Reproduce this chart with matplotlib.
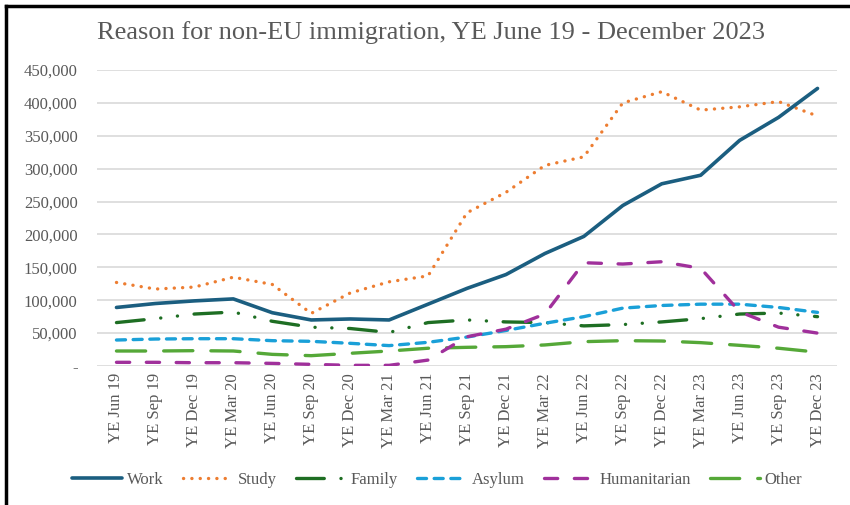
import matplotlib
matplotlib.use("Agg")
import matplotlib.pyplot as plt
from matplotlib.lines import Line2D

plt.rcParams['font.family'] = ['Liberation Serif', 'DejaVu Serif']
plt.rcParams['lines.scale_dashes'] = False

categories = ["YE Jun 19", "YE Sep 19", "YE Dec 19", "YE Mar 20", "YE Jun 20", "YE Sep 20",
              "YE Dec 20", "YE Mar 21", "YE Jun 21", "YE Sep 21", "YE Dec 21", "YE Mar 22",
              "YE Jun 22", "YE Sep 22", "YE Dec 22", "YE Mar 23", "YE Jun 23", "YE Sep 23",
              "YE Dec 23"]

work = [89000, 95000, 99000, 102000, 81000, 70000, 71500, 70000, 94000, 118000, 139000,
        171000, 197000, 244000, 277000, 290000, 343000, 378000, 422000]
study = [127000, 117000, 120000, 135000, 124000, 80000, 111000, 128000, 137000, 233000,
         264000, 305000, 318000, 400000, 417000, 389000, 394000, 402000, 380000]
family = [66000, 72000, 79000, 82000, 68000, 59000, 57000, 51000, 66000, 70000, 67000,
          66000, 61000, 63000, 67000, 72000, 79000, 80500, 75000]
asylum = [39500, 41000, 41500, 41500, 38500, 37500, 34500, 31000, 36000, 44000, 54000,
          65000, 75000, 88000, 92000, 94000, 94000, 89000, 81500]
humanitarian = [5600, 5600, 5000, 5000, 4000, 2500, 1000, 1000, 9000, 44500, 56000,
                79000, 157000, 155000, 158500, 148500, 82500, 59000, 50000]
other = [22800, 22800, 23300, 22800, 17700, 15700, 19300, 22800, 27000, 28400, 29400,
         32000, 37000, 38500, 38000, 35500, 31400, 27000, 21000]

yticks = [0, 50000, 100000, 150000, 200000, 250000, 300000, 350000, 400000, 450000]
ytick_labels = ["-", "50,000", "100,000", "150,000", "200,000", "250,000", "300,000",
                "350,000", "400,000", "450,000"]

grey = "#595959"
fig = plt.figure(figsize=(8.5, 5.05), dpi=100)
ax = fig.add_axes([97/850, 1 - 366/505, (837 - 97)/850, (366 - 70)/505])

x = list(range(len(categories)))
lw = 2.4
ax.plot(x, work, color="#1B5E80", lw=2.6, solid_capstyle='round', label="Work", zorder=5)
ax.plot(x, study, color="#ED7D31", lw=lw, linestyle=(0, (0.1, 5.9)), dash_capstyle='round',
        label="Study", zorder=4)
ax.plot(x, family, color="#1E6E23", lw=lw, linestyle=(0, (20, 12, 0.1, 12, 0.1, 12)),
        dash_capstyle='round', label="Family", zorder=3)
ax.plot(x, asylum, color="#1AA0D8", lw=lw, linestyle=(0, (6.5, 5.5)), dash_capstyle='round',
        label="Asylum", zorder=3)
ax.plot(x, humanitarian, color="#A0309B", lw=lw, linestyle=(0, (9.5, 12)), dash_capstyle='round',
        label="Humanitarian", zorder=3)
ax.plot(x, other, color="#55A838", lw=lw, linestyle=(0, (21, 13)), dash_capstyle='round',
        label="Other", zorder=2)

ax.set_xlim(-0.5, len(categories) - 0.5)
ax.set_ylim(0, 450000)
ax.set_yticks(yticks)
ax.set_yticklabels(ytick_labels)
ax.set_xticks(x)
ax.set_xticklabels(categories, rotation=90)
ax.tick_params(axis='both', length=0, labelsize=12, colors=grey)
ax.tick_params(axis='y', pad=14)
ax.tick_params(axis='x', pad=5)
ax.grid(axis='y', color="#D9D9D9", lw=1.2)
ax.set_axisbelow(True)
for s in ax.spines.values():
    s.set_visible(False)

fig.text(431/850, 1 - 33/505, "Reason for non-EU immigration, YE June 19 - December 2023",
         ha='center', va='center', fontsize=19, color=grey)

fig.legend(loc='center', bbox_to_anchor=(437/850, 1 - 480/505), ncol=6, frameon=False,
           fontsize=12, labelcolor=grey, handlelength=3.0, handletextpad=0.3,
           columnspacing=1.15)

fig.add_artist(Line2D([6/850, 6/850], [0, 1 - 6/505], color='black', lw=2.5,
                      transform=fig.transFigure))
fig.add_artist(Line2D([6/850, 1], [1 - 6/505, 1 - 6/505], color='black', lw=2.5,
                      transform=fig.transFigure))

fig.savefig("out.png", dpi=100)
